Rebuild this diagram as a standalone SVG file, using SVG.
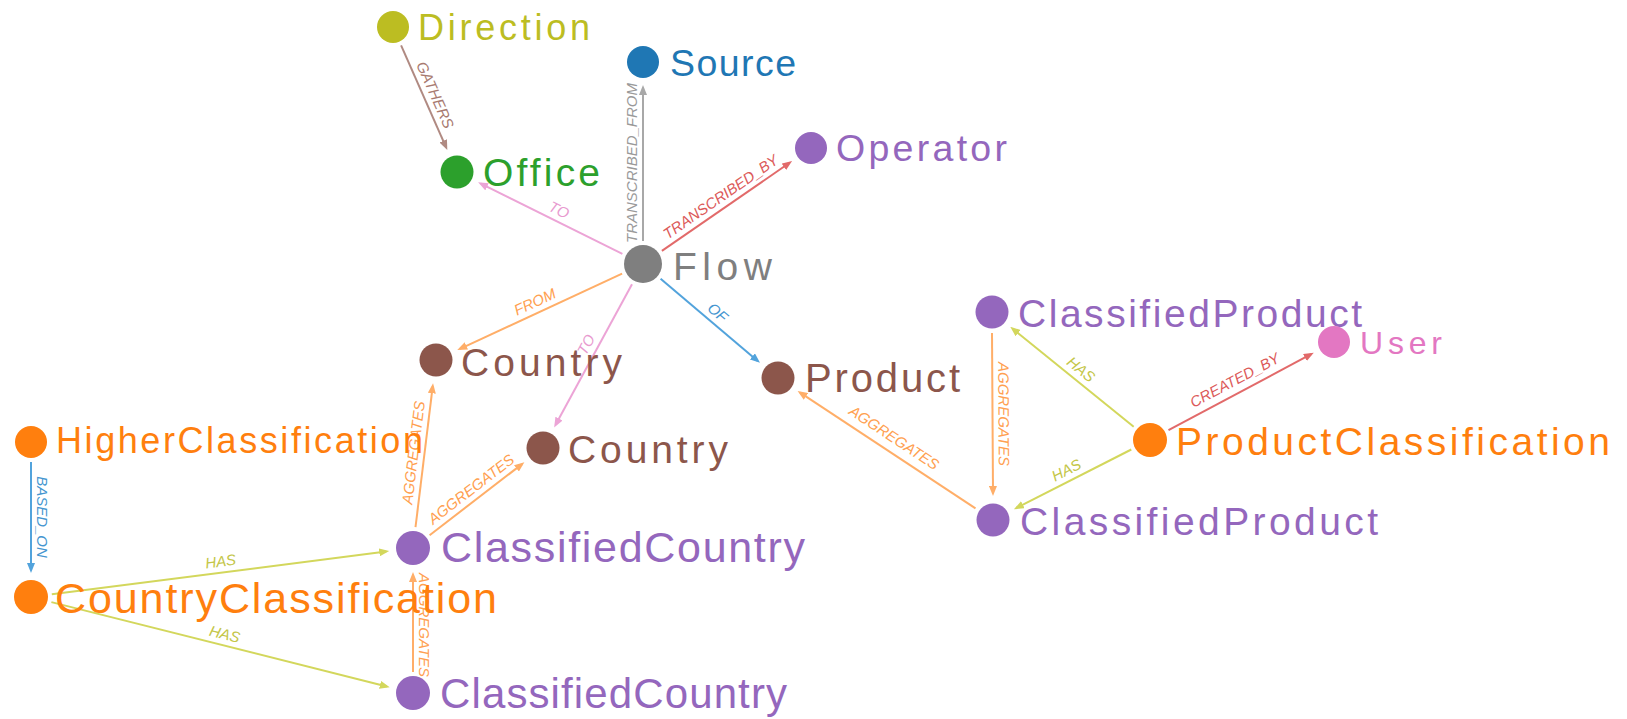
<svg xmlns="http://www.w3.org/2000/svg" width="1627" height="719" viewBox="0 0 1627 719">
  <style>
    .edge { fill: none; stroke-width: 2; }
    .elabel { font-family: "Liberation Sans", Arial, sans-serif; font-style: italic; font-size: 15px; text-anchor: middle; }
    .nlabel { font-family: "Liberation Sans", Arial, sans-serif; }
    .c-brown { stroke: #b08a82; } .t-brown { fill: #a87a70; }
    .c-gray { stroke: #a8a8a8; } .t-gray { fill: #9a9a9a; }
    .c-red { stroke: #e26a6a; } .t-red { fill: #dc5a5a; }
    .c-pink { stroke: #eca4d6; } .t-pink { fill: #e89acf; }
    .c-orange { stroke: #ffae68; } .t-orange { fill: #ffa050; }
    .c-blue { stroke: #52a3dc; } .t-blue { fill: #4596d0; }
    .c-olive { stroke: #d3d75c; } .t-olive { fill: #c4c648; }
  </style>
  <defs>
    <marker id="arr-brown" viewBox="0 0 10 8" refX="7" refY="4" markerUnits="userSpaceOnUse" markerWidth="10" markerHeight="8" orient="auto"><path d="M0,0 L10,4 L0,8 Z" fill="#b08a82"/></marker>
    <marker id="arr-gray" viewBox="0 0 10 8" refX="7" refY="4" markerUnits="userSpaceOnUse" markerWidth="10" markerHeight="8" orient="auto"><path d="M0,0 L10,4 L0,8 Z" fill="#a8a8a8"/></marker>
    <marker id="arr-red" viewBox="0 0 10 8" refX="7" refY="4" markerUnits="userSpaceOnUse" markerWidth="10" markerHeight="8" orient="auto"><path d="M0,0 L10,4 L0,8 Z" fill="#e26a6a"/></marker>
    <marker id="arr-pink" viewBox="0 0 10 8" refX="7" refY="4" markerUnits="userSpaceOnUse" markerWidth="10" markerHeight="8" orient="auto"><path d="M0,0 L10,4 L0,8 Z" fill="#eca4d6"/></marker>
    <marker id="arr-orange" viewBox="0 0 10 8" refX="7" refY="4" markerUnits="userSpaceOnUse" markerWidth="10" markerHeight="8" orient="auto"><path d="M0,0 L10,4 L0,8 Z" fill="#ffae68"/></marker>
    <marker id="arr-blue" viewBox="0 0 10 8" refX="7" refY="4" markerUnits="userSpaceOnUse" markerWidth="10" markerHeight="8" orient="auto"><path d="M0,0 L10,4 L0,8 Z" fill="#52a3dc"/></marker>
    <marker id="arr-olive" viewBox="0 0 10 8" refX="7" refY="4" markerUnits="userSpaceOnUse" markerWidth="10" markerHeight="8" orient="auto"><path d="M0,0 L10,4 L0,8 Z" fill="#d3d75c"/></marker>
  </defs>
  <rect width="1627" height="719" fill="#ffffff"/>

  <!-- relationships -->
  <g id="edges">
    <g id="e-gathers">
      <line class="edge c-brown" x1="401.1" y1="45.3" x2="446.1" y2="147.3" marker-end="url(#arr-brown)"/>
      <text class="elabel t-brown" transform="translate(425,99.5) rotate(66.2)" y="-6">GATHERS</text>
    </g>
    <g id="e-transcribed-from">
      <line class="edge c-gray" x1="643" y1="241" x2="643" y2="88" marker-end="url(#arr-gray)"/>
      <text class="elabel t-gray" transform="translate(643,163) rotate(-90)" y="-6">TRANSCRIBED_FROM</text>
    </g>
    <g id="e-transcribed-by">
      <line class="edge c-red" x1="661.9" y1="250.9" x2="789.6" y2="162.8" marker-end="url(#arr-red)"/>
      <text class="elabel t-red" transform="translate(727,206) rotate(-34.6)" y="-6">TRANSCRIBED_BY</text>
    </g>
    <g id="e-to-office">
      <line class="edge c-pink" x1="622.4" y1="253.8" x2="480.8" y2="183.7" marker-end="url(#arr-pink)"/>
      <text class="elabel t-pink" transform="translate(554,220) rotate(26.3)" y="-6">TO</text>
    </g>
    <g id="e-from-country">
      <line class="edge c-orange" x1="622.1" y1="273.7" x2="460.0" y2="348.8" marker-end="url(#arr-orange)"/>
      <text class="elabel t-orange" transform="translate(539.5,312) rotate(-24.9)" y="-6">FROM</text>
    </g>
    <g id="e-to-country">
      <line class="edge c-pink" x1="632" y1="284.2" x2="555.6" y2="424.8" marker-end="url(#arr-pink)"/>
      <text class="elabel t-pink" transform="translate(596,350) rotate(-61.5)" y="-6">TO</text>
    </g>
    <g id="e-of">
      <line class="edge c-blue" x1="660.6" y1="278.8" x2="757.7" y2="360.9" marker-end="url(#arr-blue)"/>
      <text class="elabel t-blue" transform="translate(710.5,321) rotate(40.2)" y="-6">OF</text>
    </g>
    <g id="e-agg-cc1-country1">
      <line class="edge c-orange" x1="415.5" y1="527.2" x2="432.7" y2="386.3" marker-end="url(#arr-orange)"/>
      <text class="elabel t-orange" transform="translate(424.5,454) rotate(-83)" y="-6">AGGREGATES</text>
    </g>
    <g id="e-agg-cc1-country2">
      <line class="edge c-orange" x1="429.6" y1="535.2" x2="522.0" y2="464.1" marker-end="url(#arr-orange)"/>
      <text class="elabel t-orange" transform="translate(478,498) rotate(-37.6)" y="-6">AGGREGATES</text>
    </g>
    <g id="e-agg-cc2-cc1">
      <line class="edge c-orange" x1="413" y1="672" x2="413" y2="575" marker-end="url(#arr-orange)"/>
      <text class="elabel t-orange" transform="translate(413,625) rotate(90)" y="-6">AGGREGATES</text>
    </g>
    <g id="e-has-cc1">
      <line class="edge c-olive" x1="51.8" y1="594.3" x2="386.2" y2="551.5" marker-end="url(#arr-olive)"/>
      <text class="elabel t-olive" transform="translate(222,572.5) rotate(-7.3)" y="-6">HAS</text>
    </g>
    <g id="e-has-cc2">
      <line class="edge c-olive" x1="51.4" y1="602.1" x2="386.8" y2="686.5" marker-end="url(#arr-olive)"/>
      <text class="elabel t-olive" transform="translate(222,645) rotate(14.1)" y="-6">HAS</text>
    </g>
    <g id="e-based-on">
      <line class="edge c-blue" x1="31" y1="462" x2="31" y2="570" marker-end="url(#arr-blue)"/>
      <text class="elabel t-blue" transform="translate(31,517) rotate(90)" y="-6">BASED_ON</text>
    </g>
    <g id="e-agg-cp2-product">
      <line class="edge c-orange" x1="975.5" y1="508.4" x2="800.1" y2="392.6" marker-end="url(#arr-orange)"/>
      <text class="elabel t-orange" transform="translate(888,447) rotate(33.4)" y="-6">AGGREGATES</text>
    </g>
    <g id="e-agg-cp1-cp2">
      <line class="edge c-orange" x1="992" y1="333" x2="993" y2="493" marker-end="url(#arr-orange)"/>
      <text class="elabel t-orange" transform="translate(992.5,414) rotate(89.7)" y="-6">AGGREGATES</text>
    </g>
    <g id="e-has-cp1">
      <line class="edge c-olive" x1="1133.7" y1="426.8" x2="1012.6" y2="328.7" marker-end="url(#arr-olive)"/>
      <text class="elabel t-olive" transform="translate(1074,378) rotate(39)" y="-6">HAS</text>
    </g>
    <g id="e-has-cp2">
      <line class="edge c-olive" x1="1131.3" y1="449.5" x2="1016.6" y2="507.9" marker-end="url(#arr-olive)"/>
      <text class="elabel t-olive" transform="translate(1071.5,480) rotate(-27)" y="-6">HAS</text>
    </g>
    <g id="e-created-by">
      <line class="edge c-red" x1="1168.5" y1="430.1" x2="1311.1" y2="354.2" marker-end="url(#arr-red)"/>
      <text class="elabel t-red" transform="translate(1240,390) rotate(-28)" y="-6">CREATED_BY</text>
    </g>
  </g>

  <!-- entities -->
  <g id="n-direction"><circle cx="393" cy="27" r="16" fill="#bcbd22"/><text class="nlabel" x="418" y="40" font-size="36" textLength="172" lengthAdjust="spacing" fill="#bcbd22">Direction</text></g>
  <g id="n-source"><circle cx="643" cy="62" r="16" fill="#1f77b4"/><text class="nlabel" x="670" y="76" font-size="37.5" textLength="126" lengthAdjust="spacing" fill="#1f77b4">Source</text></g>
  <g id="n-office"><circle cx="457" cy="172" r="16.5" fill="#2ca02c"/><text class="nlabel" x="483" y="186" font-size="39" textLength="117" lengthAdjust="spacing" fill="#2ca02c">Office</text></g>
  <g id="n-flow"><circle cx="643" cy="264" r="19" fill="#7f7f7f"/><text class="nlabel" x="673" y="280" font-size="39" textLength="99" lengthAdjust="spacing" fill="#7f7f7f">Flow</text></g>
  <g id="n-operator"><circle cx="811" cy="148" r="16" fill="#9467bd"/><text class="nlabel" x="836" y="161" font-size="37.5" textLength="171" lengthAdjust="spacing" fill="#9467bd">Operator</text></g>
  <g id="n-country-from"><circle cx="436" cy="360" r="16.5" fill="#8c564b"/><text class="nlabel" x="461" y="376" font-size="39" textLength="161" lengthAdjust="spacing" fill="#8c564b">Country</text></g>
  <g id="n-country-to"><circle cx="543" cy="448" r="16.5" fill="#8c564b"/><text class="nlabel" x="568" y="463" font-size="39" textLength="160" lengthAdjust="spacing" fill="#8c564b">Country</text></g>
  <g id="n-product"><circle cx="778" cy="378" r="16.5" fill="#8c564b"/><text class="nlabel" x="805" y="392" font-size="40" textLength="155" lengthAdjust="spacing" fill="#8c564b">Product</text></g>
  <g id="n-classified-product-1"><circle cx="992" cy="312" r="16.5" fill="#9467bd"/><text class="nlabel" x="1018" y="327" font-size="39" textLength="344" lengthAdjust="spacing" fill="#9467bd">ClassifiedProduct</text></g>
  <g id="n-classified-product-2"><circle cx="993" cy="520" r="16.5" fill="#9467bd"/><text class="nlabel" x="1020" y="535" font-size="39" textLength="358" lengthAdjust="spacing" fill="#9467bd">ClassifiedProduct</text></g>
  <g id="n-product-classification"><circle cx="1150" cy="440" r="17" fill="#ff7f0e"/><text class="nlabel" x="1176" y="455" font-size="39" textLength="434" lengthAdjust="spacing" fill="#ff7f0e">ProductClassification</text></g>
  <g id="n-user"><circle cx="1334" cy="342" r="16" fill="#e377c2"/><text class="nlabel" x="1360" y="354" font-size="32" textLength="82" lengthAdjust="spacing" fill="#e377c2">User</text></g>
  <g id="n-higher-classification"><circle cx="31" cy="442" r="16" fill="#ff7f0e"/><text class="nlabel" x="56" y="453" font-size="36" textLength="367" lengthAdjust="spacing" fill="#ff7f0e">HigherClassification</text></g>
  <g id="n-country-classification"><circle cx="31" cy="597" r="17" fill="#ff7f0e"/><text class="nlabel" x="55" y="613" font-size="43" textLength="442" lengthAdjust="spacing" fill="#ff7f0e">CountryClassification</text></g>
  <g id="n-classified-country-1"><circle cx="413" cy="548" r="17" fill="#9467bd"/><text class="nlabel" x="441" y="562" font-size="43" textLength="364" lengthAdjust="spacing" fill="#9467bd">ClassifiedCountry</text></g>
  <g id="n-classified-country-2"><circle cx="413" cy="693" r="17" fill="#9467bd"/><text class="nlabel" x="440" y="708" font-size="42" textLength="347" lengthAdjust="spacing" fill="#9467bd">ClassifiedCountry</text></g>
</svg>
